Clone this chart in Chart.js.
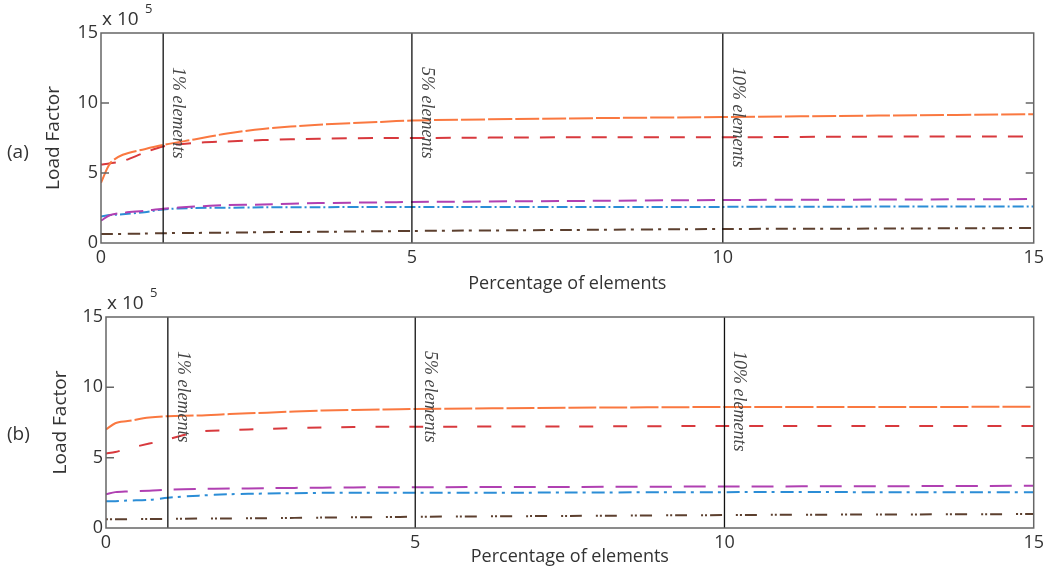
<!DOCTYPE html>
<html>
<head>
<meta charset="utf-8">
<script src="https://cdn.jsdelivr.net/npm/chart.js@4/dist/chart.umd.min.js"></script>
<style>
    body { margin: 0; background: #fff; }
    .panel { position: absolute; left: 0; width: 1048px; }
    #panelA { top: 0; height: 295px; }
    #panelB { top: 280px; height: 301px; }
</style>
</head>
<body>
<div class="panel" id="panelA"><canvas id="chartA"></canvas></div>
<div class="panel" id="panelB"><canvas id="chartB"></canvas></div>
<script>
// percentage of elements (x) and load factor in units of 1e5 (y)
const xValues = [0, 0.15, 0.35, 0.7, 1, 1.5, 2, 2.6, 3.5, 4.5, 5, 7.5, 10, 12.5, 15];

const orangeA = [4.3, 5.7, 6.3, 6.7, 7.0, 7.4, 7.8, 8.15, 8.45, 8.65, 8.75, 8.9, 9.0, 9.1, 9.2];
const redA    = [5.6, 5.7, 5.85, 6.45, 6.9, 7.15, 7.25, 7.35, 7.45, 7.5, 7.5, 7.55, 7.55, 7.6, 7.6];
const purpleA = [1.6, 2.0, 2.15, 2.3, 2.45, 2.6, 2.7, 2.75, 2.85, 2.9, 2.93, 3.0, 3.07, 3.1, 3.14];
const blueA   = [1.9, 2.0, 2.05, 2.2, 2.4, 2.5, 2.52, 2.55, 2.56, 2.57, 2.57, 2.57, 2.58, 2.6, 2.6];
const brownA  = [0.64, 0.64, 0.65, 0.67, 0.7, 0.72, 0.74, 0.77, 0.8, 0.84, 0.86, 0.93, 1.0, 1.03, 1.07];

const orangeB = [7.0, 7.45, 7.6, 7.85, 7.95, 8.0, 8.1, 8.2, 8.35, 8.43, 8.46, 8.55, 8.6, 8.6, 8.62];
const redB    = [5.3, 5.4, 5.65, 6.0, 6.3, 6.85, 6.95, 7.05, 7.15, 7.2, 7.2, 7.22, 7.25, 7.25, 7.25];
const purpleB = [2.4, 2.55, 2.6, 2.65, 2.72, 2.78, 2.8, 2.83, 2.87, 2.9, 2.9, 2.92, 2.95, 2.97, 3.0];
const blueB   = [1.9, 1.9, 1.95, 2.0, 2.15, 2.3, 2.4, 2.45, 2.5, 2.5, 2.5, 2.52, 2.55, 2.55, 2.55];
const brownB  = [0.62, 0.62, 0.63, 0.64, 0.65, 0.67, 0.68, 0.7, 0.74, 0.78, 0.8, 0.86, 0.92, 0.96, 0.99];

const markerX = [1, 5, 10];
const markerLabels = ['1% elements', '5% elements', '10% elements'];
const yTicks = [0, 5, 10, 15];

const colors = {
    orange: '#fa7840',
    red: '#d8393d',
    purple: '#b040b2',
    blue: '#2b8dd6',
    brown: '#5c3f2e',
};

const toPoints = (ys) => ys.map((y, i) => ({ x: xValues[i], y: y }));

const seriesSet = (vals, dashes) => [
    { data: toPoints(vals[0]), borderColor: colors.orange, borderDash: dashes[0] },
    { data: toPoints(vals[1]), borderColor: colors.red, borderDash: dashes[1] },
    { data: toPoints(vals[2]), borderColor: colors.purple, borderDash: dashes[2] },
    { data: toPoints(vals[3]), borderColor: colors.blue, borderDash: dashes[3] },
    { data: toPoints(vals[4]), borderColor: colors.brown, borderDash: dashes[4] },
].map(d => Object.assign(d, { borderWidth: 2, pointRadius: 0, tension: 0.3, fill: false }));

const markerSets = () => markerX.map(m => ({
    data: [{ x: m, y: yTicks[0] }, { x: m, y: yTicks[yTicks.length - 1] }],
    borderColor: '#111',
    borderWidth: 1.3,
    pointRadius: 0,
}));

// frame, inner ticks, rotated marker labels, exponent and panel tag
const decorations = {
    id: 'decorations',
    afterDatasetsDraw(chart, args, opts) {
        const { ctx, chartArea: a, scales: { x, y } } = chart;
        ctx.save();
        ctx.strokeStyle = '#666';
        ctx.lineWidth = 1.5;
        ctx.strokeRect(a.left, a.top, a.right - a.left, a.bottom - a.top);
        yTicks.slice(1, -1).forEach(v => {
            const py = y.getPixelForValue(v);
            ctx.beginPath();
            ctx.moveTo(a.left, py); ctx.lineTo(a.left + 8, py);
            ctx.moveTo(a.right, py); ctx.lineTo(a.right - 8, py);
            ctx.stroke();
        });

        ctx.fillStyle = '#444';
        ctx.font = 'italic 18px "Liberation Serif"';
        ctx.textBaseline = 'alphabetic';
        markerX.forEach((m, i) => {
            ctx.save();
            ctx.translate(x.getPixelForValue(m) + 10, a.top + 34);
            ctx.rotate(Math.PI / 2);
            ctx.fillText(markerLabels[i], 0, 0);
            ctx.restore();
        });

        ctx.fillStyle = '#333';
        ctx.textBaseline = 'middle';
        ctx.font = '19px "Open Sans"';
        ctx.fillText('x 10', a.left + 1, a.top - 13);
        ctx.font = '13px "Open Sans"';
        ctx.fillText('5', a.left + 44, a.top - 24);
        ctx.font = '19px "Open Sans"';
        ctx.fillText(opts.tag, 7, opts.tagY);
        ctx.restore();
    }
};

const renderPanel = (id, datasets, cfg) => {
    new Chart(document.getElementById(id), {
        type: 'line',
        data: { datasets: datasets },
        plugins: [decorations],
        options: {
            responsive: true,
            maintainAspectRatio: false,
            animation: false,
            layout: { padding: { top: cfg.top, right: cfg.right, left: 0, bottom: 0 } },
            plugins: {
                legend: { display: false },
                tooltip: { enabled: false },
                decorations: { tag: cfg.tag, tagY: cfg.tagY },
            },
            scales: {
                x: {
                    type: 'linear',
                    min: 0,
                    max: 15,
                    grid: { display: false, drawTicks: false },
                    border: { display: false },
                    ticks: { stepSize: 5, padding: 4, color: '#333', font: { family: 'Open Sans', size: 18 } },
                    title: {
                        display: true,
                        text: 'Percentage of elements',
                        color: '#333',
                        font: { family: 'Open Sans', size: 18 },
                        padding: { top: 0, bottom: cfg.xTitlePad },
                    },
                    afterFit: (scale) => { scale.height = cfg.xHeight; },
                },
                y: {
                    min: 0,
                    max: 15,
                    grid: { display: false, drawTicks: false },
                    border: { display: false },
                    ticks: { stepSize: 5, padding: 3, color: '#333', font: { family: 'Open Sans', size: 18 } },
                    title: {
                        display: true,
                        text: 'Load Factor',
                        color: '#333',
                        font: { family: 'Open Sans', size: 19 },
                        padding: { top: cfg.yTitlePad, bottom: 0 },
                    },
                    afterFit: (scale) => { scale.width = cfg.yWidth; },
                },
            },
        },
    });
};

const dashesA = [[24, 3], [15, 11], [18, 8], [11, 3, 2, 3], [12, 5, 3, 7]];
const dashesB = [[28, 3], [14, 20], [22, 12], [13, 5, 3, 6], [2, 2, 2, 3, 12, 14]];

document.addEventListener('DOMContentLoaded', () => {
    renderPanel('chartA',
        markerSets().concat(seriesSet([orangeA, redA, purpleA, blueA, brownA], dashesA)),
        { top: 33, right: 13, yWidth: 101, xHeight: 52, xTitlePad: 0, yTitlePad: 42, tag: '(a)', tagY: 153 });
    renderPanel('chartB',
        markerSets().concat(seriesSet([orangeB, redB, purpleB, blueB, brownB], dashesB)),
        { top: 37, right: 8, yWidth: 106, xHeight: 53, xTitlePad: 13, yTitlePad: 49, tag: '(b)', tagY: 155 });
});
</script>
</body>
</html>
